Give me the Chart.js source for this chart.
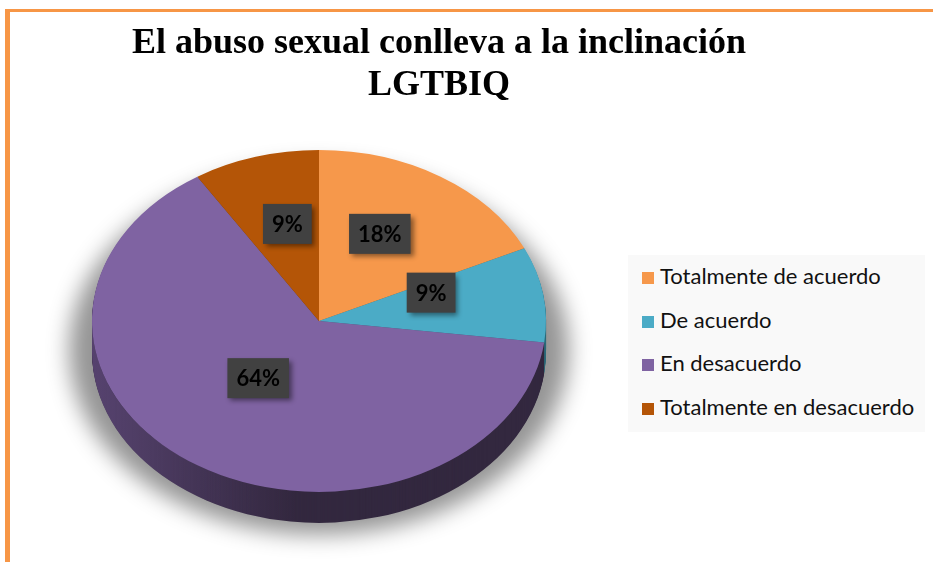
<!DOCTYPE html>
<html>
<head>
<meta charset="utf-8">
<script src="https://cdn.jsdelivr.net/npm/chart.js@4/dist/chart.umd.min.js"></script>
<style>
  html, body { margin: 0; padding: 0; background: #fff; }
  #wrap { position: relative; width: 933px; height: 562px; overflow: hidden; }
  #frame {
    position: absolute; left: 5px; top: 9px; width: 940px; height: 560px;
    border-left: 5px solid #f79646; border-top: 3px solid #f79646;
    box-sizing: border-box;
  }
  #title {
    position: absolute; left: 40px; width: 798px; top: 20px;
    text-align: center; font: bold 36px "Liberation Serif", "Times New Roman", serif;
    line-height: 42px; color: #000;
  }
  #legend {
    position: absolute; left: 628px; top: 255px; width: 297px; height: 177px;
    background: #f9f9f9; font: 22px Lato, "Open Sans", sans-serif; color: #111;
  }
  #legend div { position: absolute; left: 14px; height: 26px; line-height: 26px; white-space: nowrap; }
  #legend span { display: inline-block; width: 12px; height: 12px; margin-right: 6px; vertical-align: 0px; }
  canvas { position: absolute; left: 0; top: 0; }
</style>
</head>
<body>
<div id="wrap">
  <div id="frame"></div>
  <canvas id="c" width="933" height="562"></canvas>
  <div id="title">El abuso sexual conlleva a la inclinación<br>LGTBIQ</div>
  <div id="legend"></div>
</div>
<script>
const categories = ['Totalmente de acuerdo', 'De acuerdo', 'En desacuerdo', 'Totalmente en desacuerdo']
const percentages = [18, 9, 64, 9]
const colors = ['#f6984b', '#4babc6', '#7f63a2', '#b45507']
const sideColors = ['#9a5a26', '#2d6a7a', '#33283f', '#6e3405']

const squash = 0.753
const depth = 31

// html legend, same order as the slices
const legendEl = document.getElementById('legend')
categories.forEach((name, i) => {
    const row = document.createElement('div')
    row.style.top = (8 + i * 43.7) + 'px'
    row.innerHTML = '<span style="background:' + colors[i] + '"></span>' + name
    legendEl.appendChild(row)
})

function arcPaths(ctx, meta) {
    meta.data.forEach((arc, i) => {
        ctx.beginPath()
        ctx.moveTo(arc.x, arc.y)
        ctx.arc(arc.x, arc.y, arc.outerRadius, arc.startAngle, arc.endAngle)
        ctx.closePath()
        ctx.fillStyle = sideColors[i]
        ctx.fill()
    })
}

const pie3d = {
    id: 'pie3d',
    beforeDatasetsDraw(chart) {
        const ctx = chart.ctx
        const meta = chart.getDatasetMeta(0)
        const arc = meta.data[0]
        const cx = arc.x, cy = arc.y, r = arc.outerRadius

        // soft grey shadow: shape drawn off-canvas, only its shadow lands here
        ctx.save()
        ctx.shadowColor = 'rgba(0,0,0,0.42)'
        ctx.shadowBlur = 22
        ctx.shadowOffsetX = 2000
        ctx.shadowOffsetY = 0
        ctx.beginPath()
        ctx.ellipse(cx - 2000, cy + depth - 2, r * 1.1, r * squash * 1.08, 0, 0, Math.PI * 2)
        ctx.fillStyle = '#000'
        ctx.fill()
        ctx.restore()

        // side wall, stacked layers
        for (let d = depth; d >= 1; d--) {
            ctx.save()
            ctx.translate(cx, cy + d)
            ctx.scale(1, squash)
            ctx.translate(-cx, -cy)
            arcPaths(ctx, meta)
            ctx.restore()
        }
        // lighter left side of the wall
        ctx.save()
        const g = ctx.createLinearGradient(cx - r, 0, cx + r, 0)
        g.addColorStop(0, 'rgba(130,100,170,0.45)')
        g.addColorStop(0.45, 'rgba(130,100,170,0)')
        g.addColorStop(1, 'rgba(0,0,0,0)')
        ctx.translate(cx, cy)
        ctx.scale(1, squash)
        ctx.translate(-cx, -cy)
        ctx.beginPath()
        ctx.arc(cx, cy + depth / squash, r, 0, Math.PI)
        ctx.arc(cx, cy, r, Math.PI, 0, true)
        ctx.closePath()
        ctx.fillStyle = g
        ctx.fill()
        ctx.restore()

        // top face squashed into an ellipse
        ctx.save()
        ctx.translate(cx, cy)
        ctx.scale(1, squash)
        ctx.translate(-cx, -cy)
    },
    afterDatasetsDraw(chart) {
        const ctx = chart.ctx
        ctx.restore()

        const meta = chart.getDatasetMeta(0)
        ctx.save()
        ctx.font = 'bold 22px Lato, "Open Sans", sans-serif'
        ctx.textAlign = 'center'
        ctx.textBaseline = 'middle'
        meta.data.forEach((arc, i) => {
            const p = arc.tooltipPosition()
            const x = p.x
            const y = arc.y + (p.y - arc.y) * squash - 15
            const text = percentages[i] + '%'
            const w = ctx.measureText(text).width + 18
            const h = 40
            ctx.shadowColor = 'rgba(0,0,0,0.45)'
            ctx.shadowBlur = 5
            ctx.shadowOffsetX = 3
            ctx.shadowOffsetY = 3
            ctx.fillStyle = '#414141'
            ctx.fillRect(x - w / 2, y - h / 2, w, h)
            ctx.shadowColor = 'transparent'
            ctx.fillStyle = '#000'
            ctx.fillText(text, x, y + 1)
        })
        ctx.restore()
    },
}

new Chart(document.getElementById('c'), {
    type: 'pie',
    data: {
        labels: categories,
        datasets: [{
            data: percentages,
            backgroundColor: colors,
            borderWidth: 0,
        }],
    },
    options: {
        responsive: false,
        animation: false,
        layout: { padding: { left: 92, right: 387, top: 94, bottom: 14 } },
        plugins: {
            legend: { display: false },
            title: { display: false },
            tooltip: { enabled: false },
        },
    },
    plugins: [pie3d],
})
</script>
</body>
</html>
